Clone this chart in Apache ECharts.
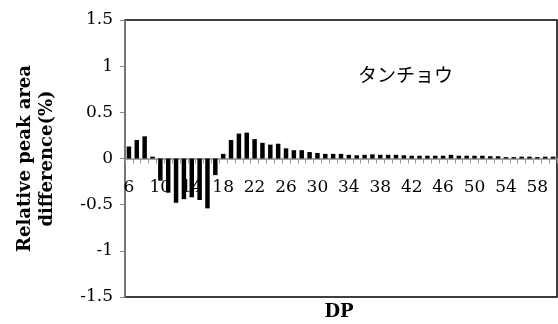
<!DOCTYPE html>
<html>
<head>
<meta charset="utf-8">
<script src="https://cdn.jsdelivr.net/npm/echarts@6/dist/echarts.min.js"></script>
<style>
html,body{margin:0;padding:0;background:#fff;}
#chart{width:558px;height:324px;}
</style>
</head>
<body>
<div id="chart"></div>
<script>
// Degree of polymerisation (DP) categories
const dpLabels = [];
for (let d = 6; d <= 60; d++) dpLabels.push(String(d));

// Relative peak area difference (%) for each DP
const diffValues = [
  0.13, 0.20, 0.24, 0.02, -0.24, -0.37, -0.48, -0.44, -0.42, -0.45,
  -0.54, -0.18, 0.05, 0.20, 0.27, 0.28, 0.21, 0.17, 0.15, 0.16,
  0.11, 0.09, 0.09, 0.07, 0.06, 0.05, 0.05, 0.05, 0.04, 0.035,
  0.04, 0.045, 0.04, 0.04, 0.04, 0.035, 0.03, 0.03, 0.03, 0.03,
  0.03, 0.04, 0.03, 0.03, 0.03, 0.03, 0.025, 0.025, 0.015, 0.015,
  0.02, 0.02, 0.015, 0.02, 0.02
];

const yMin = -1.5, yMax = 1.5, yStep = 0.5;
const sampleName = 'タンチョウ';
const xTitle = 'DP';

const gridTop = 20, gridBottom = 27, chartH = 324;
const plotH = chartH - gridTop - gridBottom;
// distance from the plot bottom up to the value 0, used to lift the category axis
const zeroLift = plotH * (0 - yMin) / (yMax - yMin);

const serif = '"DejaVu Serif", serif';
const chart = echarts.init(document.getElementById('chart'), null, {renderer: 'canvas'});
chart.setOption({
  animation: false,
  backgroundColor: '#fff',
  grid: {
    left: 125, right: 1, top: gridTop, bottom: gridBottom,
    outerBoundsMode: 'none',
    containLabel: false,
    show: true, borderColor: '#000', borderWidth: 1.5, backgroundColor: 'transparent'
  },
  xAxis: {
    type: 'category',
    data: dpLabels,
    boundaryGap: true,
    position: 'bottom',
    offset: -zeroLift,
    axisLine: {onZero: false, lineStyle: {color: '#888', width: 1.5}},
    axisTick: {show: true, interval: 0, length: 5, lineStyle: {color: '#999'}},
    axisLabel: {interval: 3, margin: 21, color: '#000', fontFamily: serif, fontSize: 17},
    splitLine: {show: false}
  },
  yAxis: {
    type: 'value',
    min: yMin, max: yMax, interval: yStep,
    axisLine: {show: true, lineStyle: {color: '#888', width: 1.5}},
    axisTick: {show: true, length: 5, lineStyle: {color: '#888'}},
    axisLabel: {margin: 12, color: '#000', fontFamily: serif, fontSize: 17},
    splitLine: {show: false},
    name: 'Relative peak area\ndifference(%)',
    nameLocation: 'middle',
    nameRotate: 90,
    nameGap: 67,
    nameTextStyle: {color: '#000', fontFamily: serif, fontSize: 18, fontWeight: 'bold', lineHeight: 22, align: 'center'}
  },
  series: [{
    type: 'bar',
    data: diffValues,
    barWidth: '57%',
    itemStyle: {color: '#000'}
  }],
  graphic: [{
    type: 'text',
    x: 358, y: 75,
    style: {text: sampleName, fill: '#000', font: '19px "Noto Sans CJK JP", sans-serif', verticalAlign: 'middle'}
  }, {
    type: 'text',
    x: 339, y: 312,
    style: {text: xTitle, fill: '#000', font: 'bold 18px "DejaVu Serif", serif', align: 'center', verticalAlign: 'middle'}
  }]
});
</script>
</body>
</html>
